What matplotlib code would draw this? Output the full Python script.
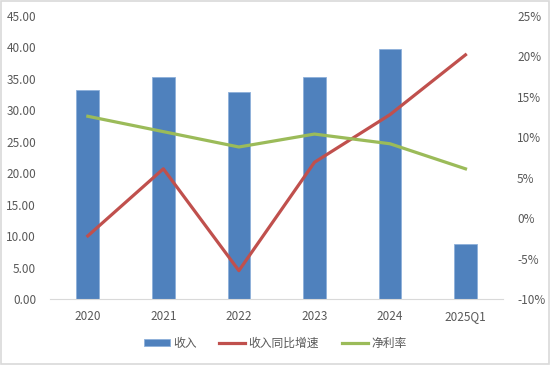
import matplotlib.pyplot as plt
import numpy as np
from matplotlib.patches import Rectangle

plt.rcParams['font.family'] = ['Noto Sans CJK SC', 'DejaVu Sans']

categories = ['2020', '2021', '2022', '2023', '2024', '2025Q1']
revenue = [33.2, 35.3, 32.9, 35.3, 39.7, 8.7]
revenue_yoy = [-2.2, 6.1, -6.5, 6.9, 12.8, 20.2]
net_margin = [12.6, 10.7, 8.8, 10.4, 9.2, 6.1]

c_bar = '#4F81BD'
c_red = '#C0504D'
c_green = '#9BBB59'
c_text = '#595959'

fig = plt.figure(figsize=(5.5, 3.65), dpi=100)
ax = fig.add_axes([0.091, 0.181, 0.824, 0.775])
x = np.arange(len(categories))
bars = ax.bar(x, revenue, 0.3, color=c_bar, edgecolor='#8EB0DA', linewidth=0.6, label='收入', zorder=2)
ax.set_xlim(-0.5, len(categories) - 0.5)
ax.set_ylim(0, 45)
ax.set_yticks(np.arange(0, 46, 5))
ax.set_yticklabels(['%.2f' % v for v in np.arange(0, 46, 5)])
ax.set_xticks(x)
ax.set_xticklabels(categories)

ax2 = ax.twinx()
l1, = ax2.plot(x, revenue_yoy, color=c_red, linewidth=2.3, label='收入同比增速', zorder=3)
l2, = ax2.plot(x, net_margin, color=c_green, linewidth=2.3, label='净利率', zorder=3)
ax2.set_ylim(-10, 25)
ax2.set_yticks(np.arange(-10, 26, 5))
ax2.set_yticklabels(['%d%%' % v for v in np.arange(-10, 26, 5)])

for a in (ax, ax2):
    for s in a.spines.values():
        s.set_visible(False)
    a.tick_params(length=0, colors=c_text, labelsize=8.5)
ax.spines['bottom'].set_visible(True)
ax.spines['bottom'].set_color('#D9D9D9')
ax.tick_params(axis='y', pad=10)
ax.tick_params(axis='x', pad=8)
ax2.tick_params(axis='y', pad=10)

fig.legend([bars, l1, l2], ['收入', '收入同比增速', '净利率'], loc='center',
           bbox_to_anchor=(0.5, 0.06), ncol=3, frameon=False, fontsize=8.5,
           labelcolor=c_text, handlelength=2.2, handleheight=0.6,
           columnspacing=1.9, handletextpad=0.3)

fig.patches.append(Rectangle((0.002, 0.003), 0.996, 0.994, transform=fig.transFigure,
                             fill=False, edgecolor='#D9D9D9', linewidth=1.2))

fig.savefig('out.png', dpi=100)
